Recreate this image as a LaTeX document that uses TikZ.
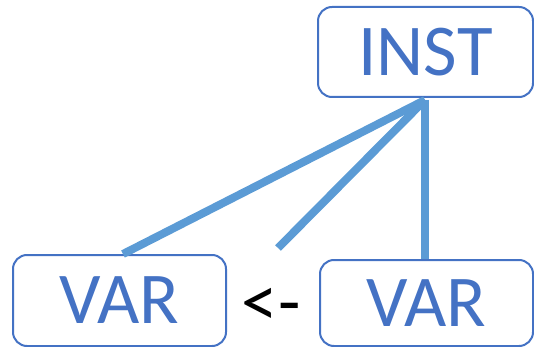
\documentclass[tikz,border=0pt]{standalone}
\usepackage{fontspec}
\setmainfont{Carlito}
\definecolor{boxblue}{HTML}{4472C4}
\definecolor{linkblue}{HTML}{5B9BD5}
\begin{document}
\begin{tikzpicture}[x=1pt,y=-1pt,
  termbox/.style={draw=boxblue, line width=2pt, rounded corners=14pt,
    text=boxblue, inner sep=0pt, font=\fontsize{73}{80}\selectfont},
  link/.style={draw=linkblue, line width=8pt, line cap=butt}]
  \useasboundingbox (0,0) rectangle (534,347);
  % tree nodes
  \node[termbox, minimum width=215pt, minimum height=90pt] (inst) at (425.5,52) {INST};
  \node[termbox, minimum width=213pt, minimum height=91pt] (varL) at (119.5,300.5) {VAR};
  \node[termbox, minimum width=213pt, minimum height=86pt] (varR) at (426.5,303) {VAR};
  \node[font=\fontsize{73}{80}\selectfont, inner sep=0pt] (arrow) at (271,307) {<-};
  % edges from the instance node
  \coordinate (apex) at ([xshift=-0.5pt,yshift=-2pt]inst.south);
  \coordinate (mid) at (278,248);
  \draw[link] (apex) -- ([xshift=3.5pt]varL.north);
  \draw[link] (apex) -- (mid);
  \draw[link] (apex) -- (apex |- varR.north);
\end{tikzpicture}
\end{document}
